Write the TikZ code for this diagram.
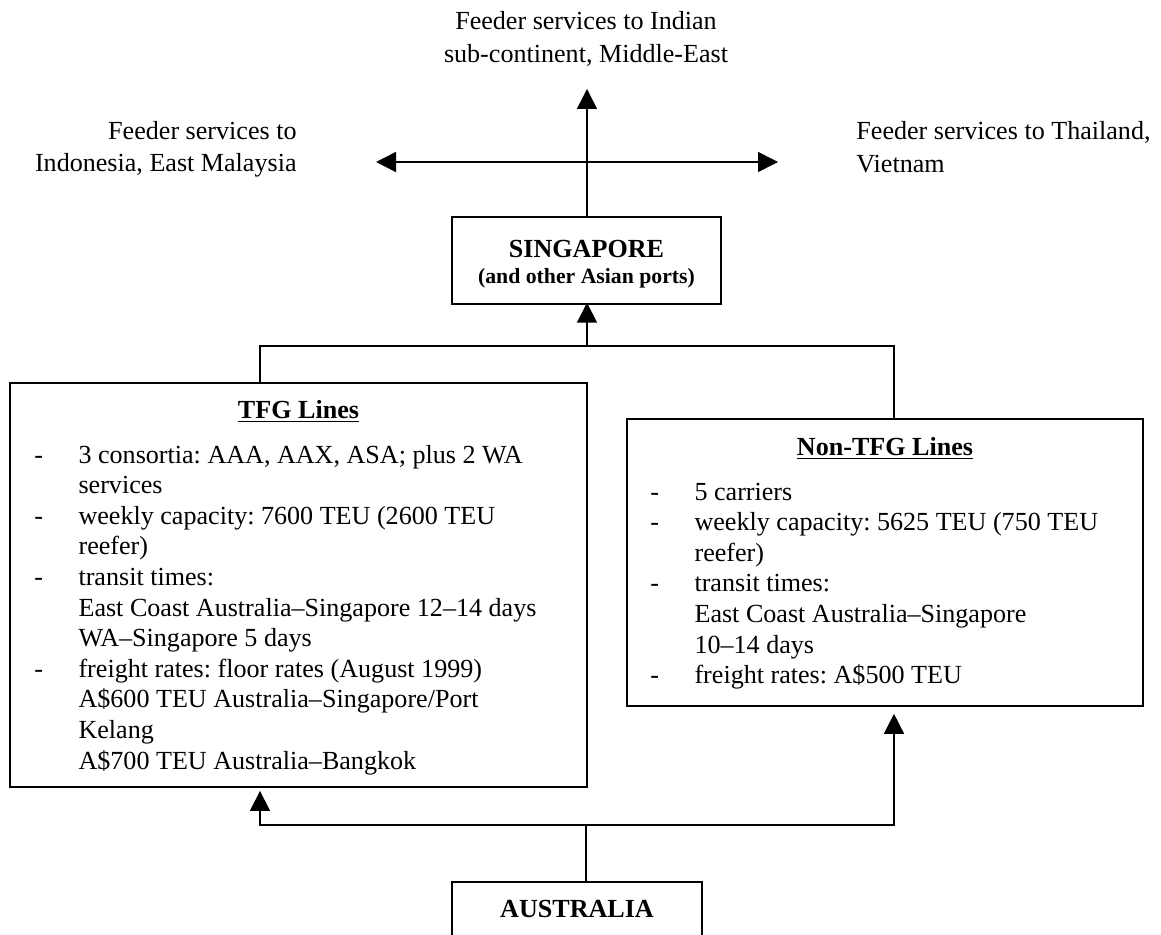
\documentclass[tikz,border=0pt]{standalone}
\usepackage{fontspec}
\setmainfont{Liberation Serif}
\usetikzlibrary{arrows.meta}
\frenchspacing
% list helpers: a dash in a fixed-width slot, and the matching indent
\newcommand{\itm}{\makebox[20.3pt][l]{-}}
\newcommand{\cnt}{\hspace*{20.3pt}}
\begin{document}
\begin{tikzpicture}[x=0.46pt,y=-0.46pt,
  box/.style={draw, line width=0.8pt, inner sep=0pt},
  body/.style={inner sep=0pt, font=\fontsize{12}{14.08}\selectfont},
  label/.style={inner sep=0pt, font=\fontsize{12}{14.9}\selectfont},
  link/.style={line width=0.7pt},
  arr/.style={link, -{Triangle[length=9.2pt,width=9.2pt]}},
  dblarr/.style={link, {Triangle[length=9.2pt,width=9.2pt]}-{Triangle[length=9.2pt,width=9.2pt]}}]
\clip (0,0) rectangle (1161,934);

% boxes
\node[box, minimum width=269*0.46pt, minimum height=87*0.46pt] (sing) at (586.5,260.5) {};
\node[box, minimum width=577*0.46pt, minimum height=404*0.46pt] (tfg) at (298.5,585) {};
\node[box, minimum width=516*0.46pt, minimum height=287*0.46pt] (ntfg) at (885,562.5) {};
\node[box, minimum width=250*0.46pt, minimum height=90*0.46pt] (aus) at (577,927) {};

% feeder destinations
\node[label, anchor=base] (north) at (586,30)
  {\begin{tabular}[t]{@{}c@{}}Feeder services to Indian\\sub-continent, Middle-East\end{tabular}};
\node[label, anchor=base east] (west) at (297,139)
  {\begin{tabular}[t]{@{}r@{}}Feeder services to\\Indonesia, East Malaysia\end{tabular}};
\node[label, anchor=base west] (east) at (856,140)
  {\begin{tabular}[t]{@{}l@{}}Feeder services to Thailand,\\Vietnam\end{tabular}};

% hub
\node[body, anchor=base, font=\fontsize{12}{14}\selectfont\bfseries] (singT) at (586.5,257) {SINGAPORE};
\node[body, anchor=base, font=\fontsize{10}{12}\selectfont\bfseries] (singS) at (586.5,283) {(and other Asian ports)};

% TFG lines
\node[body, anchor=base, font=\fontsize{12}{14}\selectfont\bfseries] (tfgT) at (298.5,418) {\underline{TFG Lines}};
\node[body, anchor=base west] (tfgL) at (34,463) {\begin{tabular}[t]{@{}l@{}}
\itm 3 consortia: AAA, AAX, ASA; plus 2 WA\\
\cnt services\\
\itm weekly capacity: 7600 TEU (2600 TEU\\
\cnt reefer)\\
\itm transit times:\\
\cnt East Coast Australia--Singapore 12--14 days\\
\cnt WA--Singapore 5 days\\
\itm freight rates: floor rates (August 1999)\\
\cnt A\$600 TEU Australia--Singapore/Port\\
\cnt Kelang\\
\cnt A\$700 TEU Australia--Bangkok
\end{tabular}};

% non-TFG lines
\node[body, anchor=base, font=\fontsize{12}{14}\selectfont\bfseries] (ntfgT) at (885,455) {\underline{Non-TFG Lines}};
\node[body, anchor=base west] (ntfgL) at (650,500) {\begin{tabular}[t]{@{}l@{}}
\itm 5 carriers\\
\itm weekly capacity: 5625 TEU (750 TEU\\
\cnt reefer)\\
\itm transit times:\\
\cnt East Coast Australia--Singapore\\
\cnt 10--14 days\\
\itm freight rates: A\$500 TEU
\end{tabular}};

% origin
\node[body, anchor=base, font=\fontsize{12}{14}\selectfont\bfseries] (ausT) at (577,917) {AUSTRALIA};

% connector points
\coordinate (upTip) at (587,89);
\coordinate (leftTip) at (376,162);
\coordinate (rightTip) at (778,162);
\coordinate (jl) at (260,346);
\coordinate (jm) at (587,346);
\coordinate (jr) at (894,346);
\coordinate (bl) at (260,825);
\coordinate (bm) at (586,825);
\coordinate (br) at (894,825);

% feeder arrows out of Singapore
\draw[arr] (sing.north -| upTip) -- (upTip);
\draw[dblarr] (leftTip) -- (rightTip);

% both groups of lines into Singapore
\draw[link] (tfg.north -| jl) -- (jl) -- (jr) -- (ntfg.north -| jr);
\draw[arr, shorten >=-1pt] (jm) -- (sing.south -| jm);

% Australia out to both groups of lines
\draw[link] (aus.north -| bm) -- (bm);
\draw[arr, shorten >=1.4pt] (bm) -- (bl) -- (tfg.south -| bl);
\draw[arr, shorten >=3.2pt] (bm) -- (br) -- (ntfg.south -| br);
\end{tikzpicture}
\end{document}
